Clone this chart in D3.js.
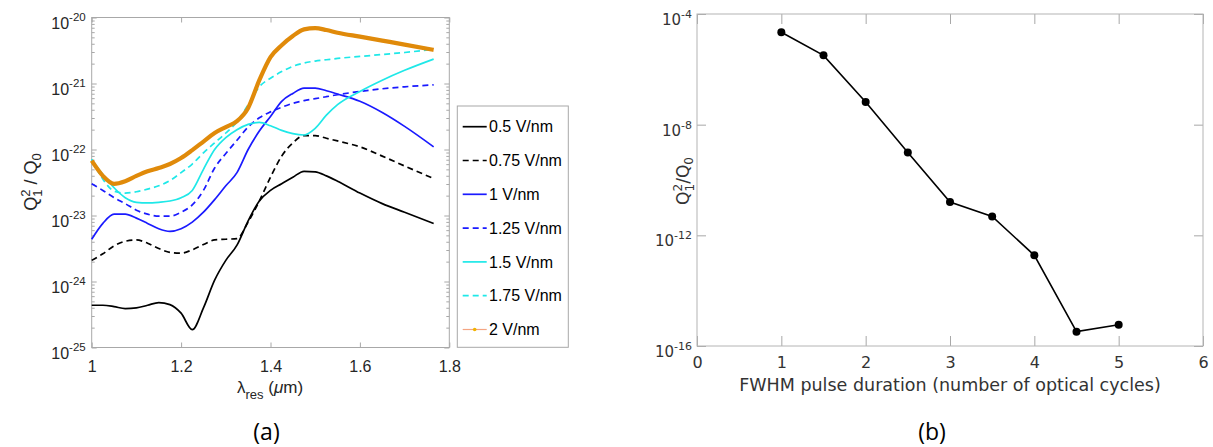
<!DOCTYPE html>
<html><head><meta charset="utf-8">
<script src="https://cdn.jsdelivr.net/npm/d3@7"></script>
<style>body{margin:0;background:#fff}svg{display:block}</style>
</head><body><svg id="c" width="1213" height="447"></svg>
<script>
// ---------- Panel (a) data: log10(Q1^2/Q0) ----------
const lambdaRes = [1.0,1.025,1.05,1.075,1.1,1.125,1.15,1.175,1.2,1.225,1.25,1.275,1.3,1.325,1.35,1.375,1.4,1.425,1.45,1.475,1.5,1.525,1.55,1.6,1.65,1.7,1.765];
const fieldLabels = ["0.5 V/nm","0.75 V/nm","1 V/nm","1.25 V/nm","1.5 V/nm","1.75 V/nm","2 V/nm"];
const logQ_0p5  = [-24.36,-24.36,-24.38,-24.41,-24.40,-24.36,-24.32,-24.35,-24.48,-24.73,-24.40,-23.98,-23.68,-23.45,-23.08,-22.78,-22.62,-22.52,-22.42,-22.33,-22.34,-22.40,-22.48,-22.66,-22.82,-22.95,-23.12];
const logQ_0p75 = [-23.68,-23.58,-23.46,-23.39,-23.37,-23.42,-23.50,-23.56,-23.57,-23.52,-23.44,-23.37,-23.36,-23.35,-23.10,-22.78,-22.42,-22.10,-21.90,-21.79,-21.79,-21.83,-21.87,-21.96,-22.10,-22.25,-22.44];
const logQ_1p0  = [-23.36,-23.12,-22.98,-22.98,-23.04,-23.12,-23.20,-23.24,-23.20,-23.10,-22.95,-22.76,-22.55,-22.35,-22.00,-21.72,-21.50,-21.27,-21.15,-21.07,-21.07,-21.11,-21.16,-21.27,-21.44,-21.65,-21.96];
const logQ_1p25 = [-22.52,-22.62,-22.73,-22.82,-22.92,-22.98,-23.01,-23.01,-22.95,-22.84,-22.62,-22.28,-22.06,-21.86,-21.66,-21.52,-21.43,-21.36,-21.30,-21.26,-21.23,-21.20,-21.17,-21.12,-21.08,-21.05,-21.02];
const logQ_1p5  = [-22.15,-22.38,-22.58,-22.73,-22.80,-22.81,-22.80,-22.78,-22.73,-22.62,-22.30,-22.00,-21.82,-21.70,-21.62,-21.59,-21.64,-21.71,-21.76,-21.78,-21.68,-21.48,-21.32,-21.12,-20.95,-20.80,-20.63];
const logQ_1p75 = [-22.15,-22.45,-22.63,-22.66,-22.64,-22.60,-22.55,-22.47,-22.35,-22.22,-22.05,-21.90,-21.75,-21.58,-21.32,-21.05,-20.92,-20.82,-20.74,-20.69,-20.66,-20.64,-20.62,-20.59,-20.56,-20.53,-20.48];
const logQ_2p0  = [-22.17,-22.40,-22.52,-22.48,-22.40,-22.33,-22.28,-22.22,-22.13,-22.01,-21.88,-21.75,-21.66,-21.57,-21.37,-20.95,-20.60,-20.42,-20.28,-20.18,-20.16,-20.19,-20.23,-20.29,-20.35,-20.41,-20.49];
const xTicksA = [1,1.2,1.4,1.6,1.8];
const xTickLabelsA = ["1","1.2","1.4","1.6","1.8"];
const yExpA = [-25,-24,-23,-22,-21,-20];

// ---------- Panel (b) data ----------
const pulseCycles = [1,1.5,2,2.5,3,3.5,4,4.5,5];
const pulseQ = [2.2e-5,3.2e-6,6.6e-8,9.8e-10,1.6e-11,4.8e-12,1.9e-13,3.3e-16,5.9e-16];
const xTicksB = [0,1,2,3,4,5,6];
const yExpB = [-16,-12,-8,-4];

const svg = d3.select("#c");
svg.append("rect").attr("width",1213).attr("height",447).attr("fill","#fff");
const axisGray = "#a8a8a8";

function styleAxis(g, color){
  g.select(".domain").remove();
  g.selectAll(".tick line").attr("stroke",axisGray).attr("stroke-width",1);
  g.selectAll(".tick text").attr("fill",color);
}

// ================= Panel (a) =================
const fA = "'Liberation Sans', Arial, sans-serif";
const xA = d3.scaleLinear().domain([1,1.8]).range([91.7,449.3]);
const yA = d3.scaleLog().domain([1e-25,1e-20]).range([347.5,17.5]);
const gA = svg.append("g").attr("font-family",fA);

const minorA = [];
yExpA.slice(0,-1).forEach(e=>{ for(let k=2;k<=9;k++) minorA.push(k*Math.pow(10,e)); });
const majorA = yExpA.map(e=>Math.pow(10,e));

gA.append("g").attr("transform","translate(91.7,0)")
  .call(d3.axisLeft(yA).tickValues(minorA).tickSizeInner(-3).tickSizeOuter(0).tickFormat(""))
  .call(g=>styleAxis(g,"#262626"));
gA.append("g").attr("transform","translate(449.3,0)")
  .call(d3.axisRight(yA).tickValues(minorA).tickSizeInner(-3).tickSizeOuter(0).tickFormat(""))
  .call(g=>styleAxis(g,"#262626"));
const yAxA = gA.append("g").attr("transform","translate(91.7,0)")
  .call(d3.axisLeft(yA).tickValues(majorA).tickSizeInner(-5).tickSizeOuter(0).tickPadding(6).tickFormat(""))
  .call(g=>styleAxis(g,"#262626"));
yAxA.selectAll(".tick text").each(function(d,i){
  const t = d3.select(this).attr("font-size","16px").attr("dy","0.7em").attr("font-family",fA);
  t.text("10");
  t.append("tspan").attr("dy","-8").attr("font-size","11.5px").text(String(yExpA[i]));
});
gA.append("g").attr("transform","translate(449.3,0)")
  .call(d3.axisRight(yA).tickValues(majorA).tickSizeInner(-5).tickSizeOuter(0).tickFormat(""))
  .call(g=>styleAxis(g,"#262626"));
gA.append("g").attr("transform","translate(0,347.5)")
  .call(d3.axisBottom(xA).tickValues(xTicksA).tickSizeInner(-5).tickSizeOuter(0).tickPadding(13).tickFormat((d,i)=>xTickLabelsA[i]))
  .call(g=>styleAxis(g,"#262626"))
  .call(g=>g.selectAll(".tick text").attr("font-size","16px").attr("font-family",fA));
gA.append("g").attr("transform","translate(0,17.5)")
  .call(d3.axisTop(xA).tickValues(xTicksA).tickSizeInner(-5).tickSizeOuter(0).tickFormat(""))
  .call(g=>styleAxis(g,"#262626"));
gA.append("rect").attr("x",91.7).attr("y",17.5).attr("width",357.6).attr("height",330)
  .attr("fill","none").attr("stroke",axisGray);

const seriesA = [
  {vals:logQ_0p5, color:"#000000", dash:null, w:1.7},
  {vals:logQ_0p75,color:"#000000", dash:"6,4", w:1.7},
  {vals:logQ_1p0, color:"#1a1aff", dash:null, w:1.7},
  {vals:logQ_1p25,color:"#1a1aff", dash:"6,4", w:1.7},
  {vals:logQ_1p5, color:"#1fe8e8", dash:null, w:1.7},
  {vals:logQ_1p75,color:"#1fe8e8", dash:"6,4", w:1.7},
  {vals:logQ_2p0, color:"#e08a0a", dash:null, w:4.2}
];
const lineA = d3.line().x(d=>xA(d[0])).y(d=>yA(Math.pow(10,d[1]))).curve(d3.curveMonotoneX);
gA.append("g").selectAll("path").data(seriesA).join("path")
  .attr("d",s=>lineA(lambdaRes.map((x,i)=>[x,s.vals[i]])))
  .attr("fill","none").attr("stroke",s=>s.color).attr("stroke-width",s=>s.w)
  .attr("stroke-dasharray",s=>s.dash).attr("stroke-linejoin","round").attr("stroke-linecap","butt");

// legend
const lg = gA.append("g");
lg.append("rect").attr("x",457.3).attr("y",106).attr("width",111).attr("height",241.3)
  .attr("fill","#fff").attr("stroke",axisGray);
const legendStyles = [
  {color:"#000",dash:null},{color:"#000",dash:"6,4"},{color:"#1a1aff",dash:null},{color:"#1a1aff",dash:"6,4"},
  {color:"#1fe8e8",dash:null},{color:"#1fe8e8",dash:"6,4"},{color:"#f4a582",dash:null,marker:true}
];
const ent = lg.selectAll("g.e").data(fieldLabels).join("g").attr("class","e")
  .attr("transform",(d,i)=>`translate(0,${126.7+i*33.8})`);
ent.append("line").attr("x1",462.7).attr("x2",486.7).attr("y1",0).attr("y2",0)
  .attr("stroke",(d,i)=>legendStyles[i].color).attr("stroke-width",(d,i)=>legendStyles[i].marker?1.2:1.7)
  .attr("stroke-dasharray",(d,i)=>legendStyles[i].dash);
ent.filter((d,i)=>legendStyles[i].marker).append("circle").attr("cx",474.7).attr("cy",0).attr("r",1.8).attr("fill","#f0b400");
ent.append("text").attr("x",489).attr("y",0).attr("dy","0.36em").attr("font-size","16px").attr("fill","#000").text(d=>d);

// labels panel (a)
const ylA = gA.append("text").attr("transform","translate(37,182) rotate(-90)").attr("text-anchor","middle")
  .attr("font-size","18px").attr("fill","#262626");
ylA.append("tspan").text("Q");
ylA.append("tspan").attr("dy","-7").attr("font-size","13px").text("2");
ylA.append("tspan").attr("dx","-7.2").attr("dy","12").attr("font-size","13px").text("1");
ylA.append("tspan").attr("dy","-5").text(" / Q");
ylA.append("tspan").attr("dy","4").attr("font-size","13px").text("0");

const xlA = gA.append("text").attr("x",270).attr("y",393).attr("text-anchor","middle").attr("font-size","17px").attr("fill","#262626");
xlA.append("tspan").text("λ");
xlA.append("tspan").attr("dy","6").attr("font-size","13px").text("res");
xlA.append("tspan").attr("dy","-6").text(" (");
xlA.append("tspan").attr("font-style","italic").text("μ");
xlA.append("tspan").text("m)");

svg.append("text").attr("x",266.5).attr("y",440).attr("text-anchor","middle")
  .attr("font-family","'Open Sans', Lato, sans-serif").attr("font-size","23px").attr("fill","#000").text("(a)");

// ================= Panel (b) =================
const fB = "'DejaVu Sans', Verdana, sans-serif";
const xB = d3.scaleLinear().domain([0,6]).range([697,1203]);
const yB = d3.scaleLog().domain([1e-16,1e-4]).range([346,14]);
const gB = svg.append("g").attr("font-family",fB);
const majorB = yExpB.map(e=>Math.pow(10,e));
const tc = "#333333";

const yAxB = gB.append("g").attr("transform","translate(697,0)")
  .call(d3.axisLeft(yB).tickValues(majorB).tickSizeInner(-9).tickSizeOuter(0).tickPadding(5).tickFormat(""))
  .call(g=>styleAxis(g,tc));
yAxB.selectAll(".tick text").each(function(d,i){
  const t = d3.select(this).attr("font-size","15px").attr("dy","10.5").attr("font-family",fB);
  t.text("10");
  t.append("tspan").attr("dy","-7").attr("font-size","11px").text(String(yExpB[i]));
});
gB.append("g").attr("transform","translate(1203,0)")
  .call(d3.axisRight(yB).tickValues(majorB).tickSizeInner(-9).tickSizeOuter(0).tickFormat(""))
  .call(g=>styleAxis(g,tc));
gB.append("g").attr("transform","translate(0,346)")
  .call(d3.axisBottom(xB).tickValues(xTicksB).tickSizeInner(-10).tickSizeOuter(0).tickPadding(11).tickFormat(d=>String(d)))
  .call(g=>styleAxis(g,tc))
  .call(g=>g.selectAll(".tick text").attr("font-size","16px").attr("font-family",fB));
gB.append("g").attr("transform","translate(0,14)")
  .call(d3.axisTop(xB).tickValues(xTicksB).tickSizeInner(-10).tickSizeOuter(0).tickFormat(""))
  .call(g=>styleAxis(g,tc));
gB.append("rect").attr("x",697).attr("y",14).attr("width",506).attr("height",332)
  .attr("fill","none").attr("stroke","#b4b4b4");

const ptsB = pulseCycles.map((x,i)=>[x,pulseQ[i]]);
gB.append("path").attr("d",d3.line().x(d=>xB(d[0])).y(d=>yB(d[1]))(ptsB))
  .attr("fill","none").attr("stroke","#000").attr("stroke-width",1.6);
gB.selectAll("circle").data(ptsB).join("circle")
  .attr("cx",d=>xB(d[0])).attr("cy",d=>yB(d[1])).attr("r",4).attr("fill","#000");

const ylB = gB.append("text").attr("transform","translate(689,181) rotate(-90)").attr("text-anchor","middle")
  .attr("font-size","17px").attr("fill",tc);
ylB.append("tspan").text("Q");
ylB.append("tspan").attr("dy","-7").attr("font-size","12px").text("2");
ylB.append("tspan").attr("dx","-7.6").attr("dy","12").attr("font-size","12px").text("1");
ylB.append("tspan").attr("dy","-5").text("/Q");
ylB.append("tspan").attr("dy","4").attr("font-size","12px").text("0");

gB.append("text").attr("x",950).attr("y",391).attr("text-anchor","middle").attr("font-size","17.5px").attr("fill",tc)
  .text("FWHM pulse duration (number of optical cycles)");

svg.append("text").attr("x",932).attr("y",440).attr("text-anchor","middle")
  .attr("font-family","'Open Sans', Lato, sans-serif").attr("font-size","23px").attr("fill","#000").text("(b)");
</script>
</body></html>
